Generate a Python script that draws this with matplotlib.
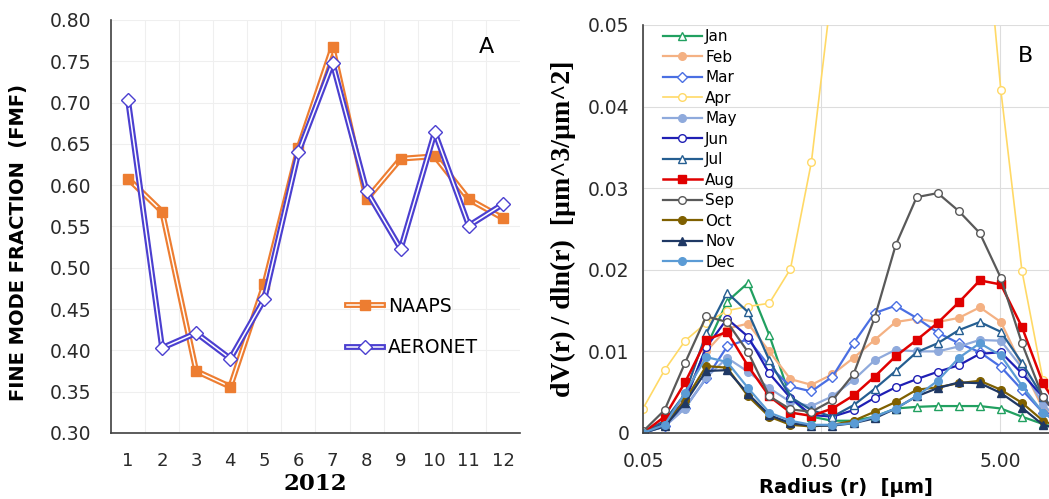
import numpy as np
import matplotlib
matplotlib.use('Agg')
from matplotlib import pyplot as plt
from matplotlib.lines import Line2D
from matplotlib.legend_handler import HandlerTuple
from matplotlib.ticker import FixedLocator, FixedFormatter, NullLocator

# panel A : fine mode fraction per month, 2012
months = [1, 2, 3, 4, 5, 6, 7, 8, 9, 10, 11, 12]
naaps = [0.608, 0.568, 0.375, 0.356, 0.480, 0.645, 0.767, 0.583, 0.632, 0.635, 0.583, 0.560]
aeronet = [0.703, 0.403, 0.421, 0.390, 0.462, 0.640, 0.748, 0.593, 0.523, 0.664, 0.551, 0.577]

# panel B : volume size distribution (AERONET 22 bins)
radius = [0.050, 0.066, 0.086, 0.113, 0.148, 0.194, 0.255, 0.335, 0.439, 0.576, 0.756,
          0.992, 1.302, 1.708, 2.241, 2.940, 3.857, 5.061, 6.641, 8.713, 11.432, 15.000]

jan = [0.0, 0.0010, 0.0040, 0.0105, 0.0161, 0.0184, 0.0120, 0.0043, 0.0020, 0.0015, 0.0015,
       0.0020, 0.0030, 0.0032, 0.0033, 0.0033, 0.0033, 0.0030, 0.0020, 0.0011, 0.0004, 0.0001]
feb = [0.0, 0.0012, 0.0045, 0.0100, 0.0128, 0.0134, 0.0100, 0.0066, 0.0059, 0.0072, 0.0092,
       0.0114, 0.0136, 0.0140, 0.0136, 0.0141, 0.0154, 0.0136, 0.0082, 0.0030, 0.0010, 0.0002]
mar = [0.0, 0.0008, 0.0031, 0.0067, 0.0106, 0.0115, 0.0082, 0.0057, 0.0051, 0.0069, 0.0110,
       0.0147, 0.0156, 0.0141, 0.0123, 0.0110, 0.0099, 0.0081, 0.0053, 0.0025, 0.0008, 0.0002]
apr = [0.0030, 0.0077, 0.0113, 0.0135, 0.0150, 0.0155, 0.0159, 0.0201, 0.0332, 0.0550, 0.0850,
       0.1100, 0.1300, 0.1400, 0.1300, 0.1100, 0.0700, 0.0420, 0.0199, 0.0065, 0.0020, 0.0005]
may = [0.0, 0.0008, 0.0030, 0.0068, 0.0092, 0.0075, 0.0055, 0.0038, 0.0033, 0.0045, 0.0065,
       0.0089, 0.0102, 0.0100, 0.0100, 0.0106, 0.0114, 0.0113, 0.0080, 0.0035, 0.0010, 0.0002]
jun = [0.0, 0.0012, 0.0040, 0.0105, 0.0140, 0.0118, 0.0073, 0.0043, 0.0022, 0.0020, 0.0028,
       0.0043, 0.0056, 0.0066, 0.0075, 0.0083, 0.0097, 0.0099, 0.0073, 0.0044, 0.0012, 0.0003]
jul = [0.0, 0.0015, 0.0048, 0.0122, 0.0172, 0.0148, 0.0089, 0.0044, 0.0028, 0.0020, 0.0034,
       0.0054, 0.0076, 0.0099, 0.0110, 0.0126, 0.0136, 0.0124, 0.0086, 0.0044, 0.0015, 0.0004]
aug = [0.0, 0.0020, 0.0062, 0.0114, 0.0124, 0.0082, 0.0045, 0.0025, 0.0021, 0.0030, 0.0046,
       0.0069, 0.0094, 0.0114, 0.0135, 0.0160, 0.0187, 0.0182, 0.0130, 0.0061, 0.0020, 0.0005]
sep = [0.0002, 0.0028, 0.0086, 0.0143, 0.0136, 0.0099, 0.0045, 0.0029, 0.0026, 0.0040, 0.0072,
       0.0141, 0.0230, 0.0289, 0.0294, 0.0272, 0.0245, 0.0190, 0.0110, 0.0044, 0.0012, 0.0003]
oct_ = [0.0, 0.0010, 0.0040, 0.0082, 0.0080, 0.0045, 0.0020, 0.0010, 0.0008, 0.0010, 0.0015,
        0.0026, 0.0038, 0.0053, 0.0056, 0.0061, 0.0064, 0.0053, 0.0037, 0.0015, 0.0005, 0.0001]
nov = [0.0, 0.0008, 0.0037, 0.0076, 0.0077, 0.0048, 0.0022, 0.0012, 0.0009, 0.0009, 0.0012,
       0.0018, 0.0030, 0.0045, 0.0055, 0.0062, 0.0061, 0.0049, 0.0031, 0.0010, 0.0003, 0.0001]
dec = [0.0, 0.0010, 0.0049, 0.0093, 0.0087, 0.0055, 0.0025, 0.0015, 0.0010, 0.0010, 0.0012,
       0.0020, 0.0030, 0.0045, 0.0064, 0.0092, 0.0110, 0.0095, 0.0058, 0.0025, 0.0008, 0.0002]

month_names = ['Jan', 'Feb', 'Mar', 'Apr', 'May', 'Jun', 'Jul', 'Aug', 'Sep', 'Oct', 'Nov', 'Dec']
month_data = [jan, feb, mar, apr, may, jun, jul, aug, sep, oct_, nov, dec]

# (color, marker, facecolor, linewidth)
styles = [
	('#21A060', '^', 'white', 1.6),
	('#F4B183', 'o', '#F4B183', 1.6),
	('#4A6FE3', 'D', 'white', 1.6),
	('#FFD966', 'o', 'white', 1.2),
	('#8FAADC', 'o', '#8FAADC', 1.6),
	('#1F1FB4', 'o', 'white', 1.6),
	('#255E91', '^', 'white', 1.6),
	('#E00000', 's', '#E00000', 1.8),
	('#595959', 'o', 'white', 1.6),
	('#7F6000', 'o', '#7F6000', 1.6),
	('#1F3864', '^', '#1F3864', 1.6),
	('#5B9BD5', 'o', '#5B9BD5', 1.6),
]

fig = plt.figure(figsize=(10.49, 4.99), dpi=100)

# ---------------- panel A ----------------
ax1 = fig.add_axes([0.1058, 0.1323, 0.3899, 0.8277])
orange = '#ED7D31'
violet = '#4B3FD0'

ax1.plot(months, naaps, color=orange, lw=4.2, zorder=3)
ax1.plot(months, naaps, color='white', lw=1.1, zorder=4)
ax1.plot(months, naaps, ls='none', marker='s', ms=7, mfc=orange, mec=orange, zorder=5)

ax1.plot(months, aeronet, color=violet, lw=4.2, zorder=6)
ax1.plot(months, aeronet, color='white', lw=1.1, zorder=7)
ax1.plot(months, aeronet, ls='none', marker='D', ms=7.5, mfc='white', mec=violet, mew=1.0, zorder=8)

ax1.set_xlim(0.5, 12.5)
ax1.set_ylim(0.30, 0.80)
ax1.set_xticks(months)
ax1.set_yticks(np.arange(0.30, 0.801, 0.05))
ax1.set_yticklabels(['%.2f' % v for v in np.arange(0.30, 0.801, 0.05)])
ax1.xaxis.set_minor_locator(FixedLocator(np.arange(1.5, 12.5, 1.0)))
ax1.grid(True, which='minor', axis='x', color='#EFEFEF', lw=0.8)
ax1.grid(True, which='major', axis='y', color='#EFEFEF', lw=0.8)
ax1.set_axisbelow(True)
ax1.tick_params(axis='both', which='both', length=0, colors='#2A2A2A')
ax1.tick_params(axis='x', pad=14, labelsize=13)
ax1.tick_params(axis='y', pad=14, labelsize=13.5)
for s in ['top', 'right']:
	ax1.spines[s].set_visible(False)
for s in ['left', 'bottom']:
	ax1.spines[s].set_color('#404040')
	ax1.spines[s].set_linewidth(1.2)
ax1.set_ylabel('FINE MODE FRACTION  (FMF)', fontsize=14, fontweight='bold')
ax1.yaxis.set_label_coords(-0.203, 0.46)
ax1.set_xlabel('2012', fontsize=16.5, fontweight='bold', family='DejaVu Serif')
ax1.xaxis.set_label_coords(0.5, -0.097)
ax1.text(0.918, 0.935, 'A', transform=ax1.transAxes, fontsize=16, ha='center', va='center')

h_naaps = (Line2D([], [], color=orange, lw=4.2),
           Line2D([], [], color='white', lw=1.1),
           Line2D([], [], ls='none', marker='s', ms=7, mfc=orange, mec=orange))
h_aero = (Line2D([], [], color=violet, lw=4.2),
          Line2D([], [], color='white', lw=1.1),
          Line2D([], [], ls='none', marker='D', ms=7, mfc='white', mec=violet))
ax1.legend([h_naaps, h_aero], ['NAAPS', 'AERONET'], handler_map={tuple: HandlerTuple(ndivide=1, pad=0)},
           loc='upper left', bbox_to_anchor=(0.577, 0.33), frameon=False, fontsize=13.5,
           handlelength=1.9, handletextpad=0.3, labelspacing=1.2, borderaxespad=0, borderpad=0)

# ---------------- panel B ----------------
ax2 = fig.add_axes([0.613, 0.1323, 0.387, 0.8176])
for name, vals, (c, m, fc, lw) in zip(month_names, month_data, styles):
	ms = 6 if m == 's' else (5 if m == 'D' else 5.5)
	ax2.plot(radius, vals, color=c, lw=lw, marker=m, ms=ms, mfc=fc, mec=c, mew=1.0, label=name)

ax2.set_xscale('log')
ax2.set_xlim(0.05, 9.42)
ax2.set_ylim(0, 0.05)
ax2.xaxis.set_major_locator(FixedLocator([0.05, 0.5, 5.0]))
ax2.xaxis.set_major_formatter(FixedFormatter(['0.05', '0.50', '5.00']))
ax2.xaxis.set_minor_locator(NullLocator())
ax2.set_yticks([0, 0.01, 0.02, 0.03, 0.04, 0.05])
ax2.set_yticklabels(['0', '0.01', '0.02', '0.03', '0.04', '0.05'])
ax2.grid(True, color='#DDDDDD', lw=0.8)
ax2.set_axisbelow(True)
ax2.tick_params(axis='both', length=0, labelsize=13.5, colors='#2A2A2A')
ax2.tick_params(axis='x', pad=14)
ax2.tick_params(axis='y', pad=10)
for s in ['top', 'right']:
	ax2.spines[s].set_visible(False)
for s in ['left', 'bottom']:
	ax2.spines[s].set_color('#404040')
	ax2.spines[s].set_linewidth(1.2)
ax2.set_ylabel('dV(r) / dln(r)  [µm^3/µm^2]', fontsize=20, fontweight='bold',
               family='Liberation Serif')
ax2.yaxis.set_label_coords(-0.165, 0.5)
ax2.set_xlabel('Radius (r)  [µm]', fontsize=14, fontweight='bold')
ax2.xaxis.set_label_coords(0.5, -0.11)
ax2.text(0.943, 0.925, 'B', transform=ax2.transAxes, fontsize=16, ha='center', va='center')

ax2.legend(loc='upper left', bbox_to_anchor=(0.048, 0.99), frameon=False, fontsize=11,
           handlelength=2.6, handletextpad=0.2, labelspacing=0.36, borderaxespad=0, borderpad=0)

fig.savefig('out.png', dpi=100)
